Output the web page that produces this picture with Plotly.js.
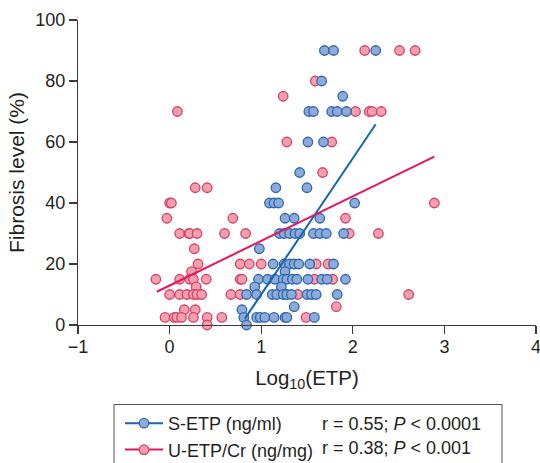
<!DOCTYPE html>
<html>
<head>
<meta charset="utf-8">
<script src="https://cdn.plot.ly/plotly-3.0.1.min.js"></script>
<style>html,body{margin:0;padding:0;background:#fff;}#chart{width:540px;height:463px;}</style>
</head>
<body>
<div id="chart"></div>
<script>
// S-ETP (ng/ml): log10(ETP) vs fibrosis level (%)
const sX = [1.69,1.79,2.25, 1.66, 1.89, 1.52,1.57,1.77,1.83,1.93, 1.51,1.68, 1.42, 1.16,1.50,
  1.09,1.14,1.19,2.02, 1.26,1.36,1.64,
  1.20,1.25,1.31,1.37,1.42,1.57,1.64,1.71,1.90, 0.98,
  1.13,1.25,1.31,1.36,1.41,1.53,1.79, 1.26,
  0.97,1.07,1.15,1.24,1.28,1.34,1.39,1.51,1.66,1.72,1.92, 0.93,1.22,
  0.84,0.95,1.12,1.17,1.24,1.28,1.33,1.50,1.55,1.60,1.83,
  0.79,1.36,
  0.81,0.95,0.99,1.04,1.14,1.26,1.28,1.58, 0.84];
const sY = [90,90,90, 80, 75, 70,70,70,70,70, 60,60, 50, 45,45,
  40,40,40,40, 35,35,35,
  30,30,30,30,30,30,30,30,30, 25,
  20,20,20,20,20,20,20, 17.5,
  15,15,15,15,15,15,15,15,15,15,15, 12.5,12.5,
  10,10,10,10,10,10,10,10,10,10,10,
  5,6,
  2.5,2.5,2.5,2.5,2.5,2.5,2.5,2.5, 0];

// U-ETP/Cr (ng/mg)
const uX = [2.13,2.51,2.68, 1.59, 1.24, 0.085,2.03,2.18,2.21,2.31, 1.28,1.77, 1.67,
  0.28,0.41, 0.0,0.02,2.89, -0.03,0.69,1.92,
  0.11,0.21,0.22,0.30,0.60,0.83,1.96,2.28, 0.27,
  0.31,0.77,0.87,1.00,1.60,1.73, 0.24,
  -0.15,0.11,0.22,0.26,0.40,0.77,0.79,1.58,1.78, 0.29,
  0.00,0.11,0.19,0.26,0.30,0.35,0.67,0.77,1.40,2.61,
  0.16,0.28,1.82,
  -0.05,0.05,0.08,0.13,0.26,0.41,0.57,1.49, 0.41];
const uY = [90,90,90, 80, 75, 70,70,70,70,70, 60,60, 50,
  45,45, 40,40,40, 35,35,35,
  30,30,30,30,30,30,30,30, 25,
  20,20,20,20,20,20, 17.5,
  15,15,15,15,15,15,15,15,15, 12.5,
  10,10,10,10,10,10,10,10,10,10,
  5,5,6,
  2.5,2.5,2.5,2.5,2.5,2.5,2.5,2.5, 0];

// regression lines (end points)
const sFitX = [0.82, 2.25];
const sFitY = [2.0, 65.8];
const uFitX = [-0.14, 2.89];
const uFitY = [10.9, 55.2];

const seriesNames = ['S-ETP (ng/ml)', 'U-ETP/Cr (ng/mg)'];
const statTexts = ['r = 0.55; <i>P</i> &lt; 0.0001', 'r = 0.38; <i>P</i> &lt; 0.001'];

const BLUE_LINE = '#1565b0', BLUE_FILL = '#8fa9d9', BLUE_EDGE = '#2a69b2';
const PINK_LINE = '#e8175d', PINK_FILL = '#f3a0ae', PINK_EDGE = '#d6416a';
const FONT = 'Liberation Sans, Arial, sans-serif';
const TXT = '#231f20';

const mk = (fill, edge) => ({size: 9.5, color: fill, line: {color: edge, width: 1.3}});

const traces = [
  {x: uX, y: uY, type: 'scatter', mode: 'markers', marker: mk(PINK_FILL, PINK_EDGE), cliponaxis: false, showlegend: false, hoverinfo: 'skip'},
  {x: sX, y: sY, type: 'scatter', mode: 'markers', marker: mk(BLUE_FILL, BLUE_EDGE), cliponaxis: false, showlegend: false, hoverinfo: 'skip'},
  {x: sFitX, y: sFitY, type: 'scatter', mode: 'lines', line: {color: BLUE_LINE, width: 2}, showlegend: false},
  {x: uFitX, y: uFitY, type: 'scatter', mode: 'lines', line: {color: PINK_LINE, width: 2}, showlegend: false},
  {x: [null], y: [null], type: 'scatter', mode: 'lines+markers', name: seriesNames[0], line: {color: BLUE_LINE, width: 2}, marker: mk(BLUE_FILL, BLUE_EDGE)},
  {x: [null], y: [null], type: 'scatter', mode: 'lines+markers', name: seriesNames[1], line: {color: PINK_LINE, width: 2}, marker: mk(PINK_FILL, PINK_EDGE)}
];

const L = 78, R = 4, T = 20, B = 138;
const W = 540 - L - R, H = 463 - T - B;
const px2x = p => (p - L) / W;
const py2y = p => (463 - B - p) / H;

const layout = {
  width: 540, height: 463,
  margin: {l: L, r: R, t: T, b: B, autoexpand: false},
  paper_bgcolor: '#fff', plot_bgcolor: '#fff',
  font: {family: FONT, size: 18, color: TXT},
  showlegend: true,
  legend: {x: px2x(120), y: py2y(405), xanchor: 'left', yanchor: 'top', bgcolor: 'rgba(0,0,0,0)',
           font: {family: FONT, size: 18, color: TXT}, tracegroupgap: 0, itemwidth: 38},
  xaxis: {range: [-1, 4], tickmode: 'linear', tick0: -1, dtick: 1, showline: true, linecolor: '#3a3a3a', linewidth: 1.2,
          ticks: 'outside', ticklen: 8, tickwidth: 1.2, tickcolor: '#3a3a3a', showgrid: false, zeroline: false,
          tickfont: {size: 18, color: TXT}, ticklabelstandoff: -3, ticklabeloverflow: 'allow',
          title: {text: 'Log<sub>10</sub>(ETP)', font: {size: 20.5, color: TXT}, standoff: 14}},
  yaxis: {range: [0, 100], tickmode: 'linear', tick0: 0, dtick: 20, showline: true, linecolor: '#3a3a3a', linewidth: 1.2,
          ticks: 'outside', ticklen: 8, tickwidth: 1.2, tickcolor: '#3a3a3a', showgrid: false, zeroline: false,
          tickfont: {size: 18, color: TXT}, ticklabeloverflow: 'allow',
          title: {text: 'Fibrosis level (%)', font: {size: 21, color: TXT}, standoff: 4}},
  shapes: [{type: 'rect', xref: 'paper', yref: 'paper', x0: px2x(114), x1: px2x(502), y0: py2y(404.5), y1: py2y(475),
            line: {color: '#555', width: 1}, fillcolor: 'rgba(0,0,0,0)'}],
  annotations: statTexts.map((t, i) => ({text: t, xref: 'paper', yref: 'paper', x: px2x(320), y: py2y(424 + 24 * i),
            xanchor: 'left', yanchor: 'middle', showarrow: false, font: {family: FONT, size: 18, color: TXT}}))
};

Plotly.newPlot('chart', traces, layout, {displayModeBar: false, staticPlot: true});
</script>
</body>
</html>
